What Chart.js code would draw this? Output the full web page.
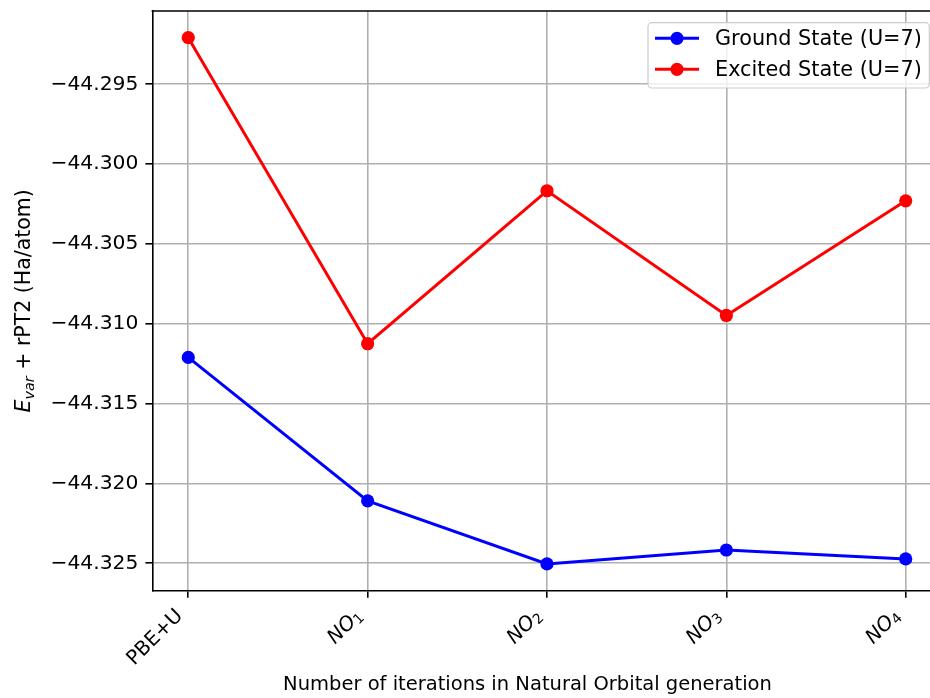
<!DOCTYPE html>
<html>
<head>
<meta charset="utf-8">
<script src="https://cdn.jsdelivr.net/npm/chart.js@4/dist/chart.umd.min.js"></script>
<style>
  html, body { margin: 0; padding: 0; background: #fff; overflow: hidden; }
  #wrap { width: 950px; height: 698px; }
</style>
</head>
<body>
<div id="wrap"><canvas id="c" width="950" height="698"></canvas></div>
<script>
// Category labels along the x axis
const categories = ['PBE+U', 'NO₁', 'NO₂', 'NO₃', 'NO₄'];
// Energies in Ha/atom
const groundState  = [-44.31211, -44.32109, -44.32504, -44.32417, -44.32473];
const excitedState = [-44.29208, -44.31125, -44.30167, -44.30948, -44.30230];
// Y axis tick values
const yTicks = [-44.325, -44.320, -44.315, -44.310, -44.305, -44.300, -44.295];

const FONT = 'DejaVu Sans';
const f = (size, style) => (style ? style + ' ' : '') + size + 'px "' + FONT + '"';
const SUB = { '₀': '0', '₁': '1', '₂': '2', '₃': '3', '₄': '4', '₅': '5', '₆': '6', '₇': '7', '₈': '8', '₉': '9' };

function toPoints(arr) { return arr.map((v, i) => ({ x: i, y: v })); }

// Splits a label into runs: plain (upright), symbol (italic) and subscript digits
function labelRuns(label, size) {
  const subs = label.split('').filter(ch => SUB[ch]).map(ch => SUB[ch]).join('');
  if (!subs) return [{ t: label, f: f(size), dy: 0 }];
  const base = label.split('').filter(ch => !SUB[ch]).join('');
  return [
    { t: base, f: f(size, 'italic'), dy: 0 },
    { t: subs, f: f(size * 0.7), dy: size * 0.22 }
  ];
}

function drawRuns(ctx, runs, align) {
  let total = 0;
  runs.forEach(r => { ctx.font = r.f; r.w = ctx.measureText(r.t).width; total += r.w; });
  let x = align === 'right' ? -total : align === 'center' ? -total / 2 : 0;
  ctx.textAlign = 'left';
  runs.forEach(r => { ctx.font = r.f; ctx.fillText(r.t, x, r.dy); x += r.w; });
}

const frameAndText = {
  id: 'frameAndText',
  afterDraw(chart) {
    const ctx = chart.ctx;
    const a = chart.chartArea;
    ctx.save();
    // remaining spines
    ctx.strokeStyle = '#000';
    ctx.lineWidth = 1.6;
    ctx.beginPath();
    ctx.moveTo(a.left - 0.8, a.top);
    ctx.lineTo(a.right, a.top);
    ctx.moveTo(a.right, a.top);
    ctx.lineTo(a.right, a.bottom);
    ctx.stroke();

    // x tick labels, rotated 45 degrees, right end at the tick
    const xs = chart.scales.x;
    const tickSize = 20;
    const off = 0.354 * tickSize * 1.164;
    ctx.fillStyle = '#000';
    ctx.textBaseline = 'middle';
    categories.forEach((lab, i) => {
      const px = xs.getPixelForValue(i);
      ctx.save();
      ctx.translate(px - off, a.bottom + 14 + off);
      ctx.rotate(-Math.PI / 4);
      drawRuns(ctx, labelRuns(lab, tickSize), 'right');
      ctx.restore();
    });

    // legend
    const lx = 648, ly = 22.7, lw = 281.3, lh = 65.3, r = 4;
    ctx.beginPath();
    ctx.moveTo(lx + r, ly);
    ctx.arcTo(lx + lw, ly, lx + lw, ly + lh, r);
    ctx.arcTo(lx + lw, ly + lh, lx, ly + lh, r);
    ctx.arcTo(lx, ly + lh, lx, ly, r);
    ctx.arcTo(lx, ly, lx + lw, ly, r);
    ctx.closePath();
    ctx.fillStyle = 'rgba(255,255,255,0.8)';
    ctx.fill();
    ctx.strokeStyle = '#cccccc';
    ctx.lineWidth = 1.2;
    ctx.stroke();

    chart.data.datasets.forEach((ds, i) => {
      const y = 38.3 + i * 31;
      ctx.strokeStyle = ds.borderColor;
      ctx.lineWidth = 3;
      ctx.beginPath();
      ctx.moveTo(655, y);
      ctx.lineTo(699, y);
      ctx.stroke();
      ctx.fillStyle = ds.borderColor;
      ctx.beginPath();
      ctx.arc(677, y, 6.6, 0, Math.PI * 2);
      ctx.fill();
      ctx.fillStyle = '#000';
      ctx.font = f(20.8);
      ctx.textAlign = 'left';
      ctx.textBaseline = 'middle';
      ctx.fillText(ds.label, 715, y + 1);
    });

    // x axis title
    ctx.fillStyle = '#000';
    ctx.font = f(19.5);
    ctx.textAlign = 'center';
    ctx.textBaseline = 'alphabetic';
    ctx.fillText('Number of iterations in Natural Orbital generation', 527.5, 690);

    // y axis title with subscript
    const ys = 20.5;
    const parts = [
      { t: 'E', f: f(ys, 'italic'), dy: 0 },
      { t: 'var', f: f(ys * 0.7, 'italic'), dy: 4 },
      { t: ' + rPT2 (Ha/atom)', f: f(ys), dy: 0 }
    ];
    ctx.translate(30, (a.top + a.bottom) / 2);
    ctx.rotate(-Math.PI / 2);
    drawRuns(ctx, parts, 'center');
    ctx.restore();
  }
};

function zeroPad(s) {
  s.paddingTop = 0; s.paddingBottom = 0; s.paddingLeft = 0; s.paddingRight = 0;
}

new Chart(document.getElementById('c'), {
  type: 'line',
  data: {
    datasets: [
      {
        label: 'Ground State (U=7)',
        data: toPoints(groundState),
        borderColor: '#0000ff',
        backgroundColor: '#0000ff',
        pointBackgroundColor: '#0000ff',
        borderWidth: 3,
        pointRadius: 6.6,
        pointBorderWidth: 0,
        pointHoverRadius: 6.6
      },
      {
        label: 'Excited State (U=7)',
        data: toPoints(excitedState),
        borderColor: '#ff0000',
        backgroundColor: '#ff0000',
        pointBackgroundColor: '#ff0000',
        borderWidth: 3,
        pointRadius: 6.6,
        pointBorderWidth: 0,
        pointHoverRadius: 6.6
      }
    ]
  },
  options: {
    responsive: false,
    animation: false,
    devicePixelRatio: 1,
    layout: { padding: { left: 0, top: 11, right: 8.4, bottom: 0 } },
    plugins: { legend: { display: false }, tooltip: { enabled: false } },
    scales: {
      x: {
        type: 'linear',
        min: -0.2,
        max: 4.2,
        afterBuildTicks: s => { s.ticks = categories.map((_, i) => ({ value: i })); },
        afterFit: s => { s.height = 107.3; zeroPad(s); },
        grid: { color: '#b0b0b0', lineWidth: 1.6, tickLength: 7, tickColor: '#000', tickWidth: 1.6 },
        border: { color: '#000', width: 1.6 },
        ticks: { display: false }
      },
      y: {
        min: -44.32672,
        max: -44.29041,
        afterBuildTicks: s => { s.ticks = yTicks.map(v => ({ value: v })); },
        afterFit: s => { s.width = 152.4; zeroPad(s); },
        grid: { color: '#b0b0b0', lineWidth: 1.6, tickLength: 7, tickColor: '#000', tickWidth: 1.6 },
        border: { color: '#000', width: 1.6 },
        ticks: {
          padding: 7,
          color: '#000',
          font: { family: FONT, size: 20.3 },
          callback: v => v.toFixed(3).replace('-', '−')
        }
      }
    }
  },
  plugins: [frameAndText]
});
</script>
</body>
</html>
